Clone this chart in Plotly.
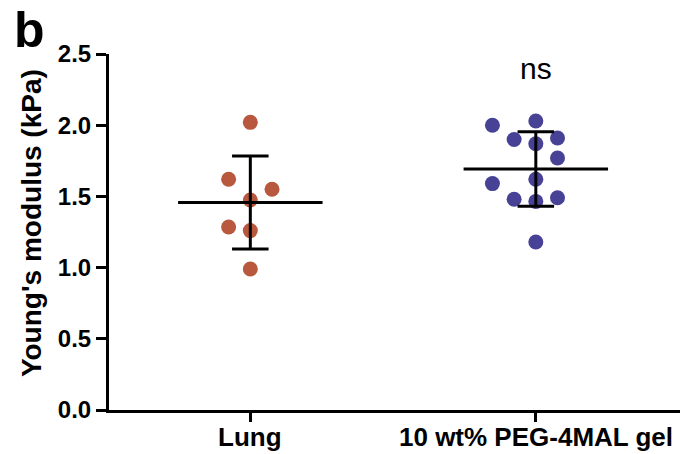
import numpy as np
import plotly.graph_objects as go

categories = ["Lung", "10 wt% PEG-4MAL gel"]
lung_values = [2.02, 1.62, 1.55, 1.475, 1.285, 1.26, 0.99]
lung_cols = [0, -1, 1, 0, -1, 0, 0]
gel_values = [2.00, 2.03, 1.90, 1.91, 1.87, 1.77, 1.59, 1.62, 1.48, 1.49, 1.465, 1.18]
gel_cols = [-2, 0, -1, 1, 0, 1, -2, 0, -1, 1, 0, 0]
y_ticks = [0.0, 0.5, 1.0, 1.5, 2.0, 2.5]
colors = ["rgb(184,88,62)", "rgb(72,66,150)"]

FONT = "Liberation Sans, Arial, sans-serif"
col_step = 0.076
mean_half = 0.253
cap_half = 0.064

fig = go.Figure()
groups = [(lung_values, lung_cols), (gel_values, gel_cols)]
for i, (vals, cols) in enumerate(groups):
    xs = [i + c * col_step for c in cols]
    fig.add_trace(go.Scatter(x=xs, y=vals, mode="markers",
                             marker=dict(size=15, color=colors[i], line=dict(width=0)),
                             showlegend=False, hoverinfo="y"))
for i, (vals, cols) in enumerate(groups):
    m = float(np.mean(vals))
    s = float(np.std(vals, ddof=1))
    lx = [i - mean_half, i + mean_half, None, i, i, None,
          i - cap_half, i + cap_half, None, i - cap_half, i + cap_half]
    ly = [m, m, None, m - s, m + s, None, m + s, m + s, None, m - s, m - s]
    fig.add_trace(go.Scatter(x=lx, y=ly, mode="lines",
                             line=dict(color="black", width=3),
                             showlegend=False, hoverinfo="skip"))

# category labels under the ticks (placed via the x axis scale)
cat_labels = [
    dict(text=f"<b>{c}</b>", xref="x", yref="paper", x=i, y=0,
         xanchor="center", yanchor="middle", yshift=-27, showarrow=False,
         font=dict(size=26, family=FONT, color="black"))
    for i, c in enumerate(categories)
]

fig.update_layout(
    width=692, height=454,
    margin=dict(l=109, r=12, t=54, b=44, autoexpand=False),
    plot_bgcolor="white", paper_bgcolor="white",
    font=dict(family=FONT, color="black"),
    xaxis=dict(range=[-0.495, 1.505], tickmode="array", tickvals=[0, 1],
               showticklabels=False,
               showline=True, linecolor="black", linewidth=3,
               ticks="outside", ticklen=9, tickwidth=3, tickcolor="black",
               showgrid=False, zeroline=False, automargin=False),
    yaxis=dict(range=[0, 2.5], tickmode="array", tickvals=y_ticks,
               ticktext=[f"<b>{t:.1f}</b>" for t in y_ticks],
               showline=True, linecolor="black", linewidth=3,
               ticks="outside", ticklen=10, tickwidth=3, tickcolor="black",
               showgrid=False, zeroline=False, automargin=False,
               tickfont=dict(size=24, family=FONT, color="black")),
    annotations=cat_labels + [
        dict(text="<b>Young's modulus (kPa)</b>", textangle=-90,
             xref="paper", yref="paper", x=(31 - 109) / 571, y=0.525,
             xanchor="center", yanchor="middle", showarrow=False,
             font=dict(size=28, family=FONT, color="black")),
        dict(text="<b>b</b>", xref="paper", yref="paper",
             x=(12 - 109) / 571, y=410 / 356,
             xanchor="left", yanchor="top", showarrow=False,
             font=dict(size=50, family=FONT, color="black")),
        dict(text="ns", xref="x", yref="y", x=1, y=2.395,
             xanchor="center", yanchor="middle", showarrow=False,
             font=dict(size=30, family=FONT, color="black")),
    ],
)

fig.write_html(
    "out.html",
    config={"displayModeBar": False},
    post_script="document.body.style.margin='0px';document.body.style.overflow='hidden';",
)
